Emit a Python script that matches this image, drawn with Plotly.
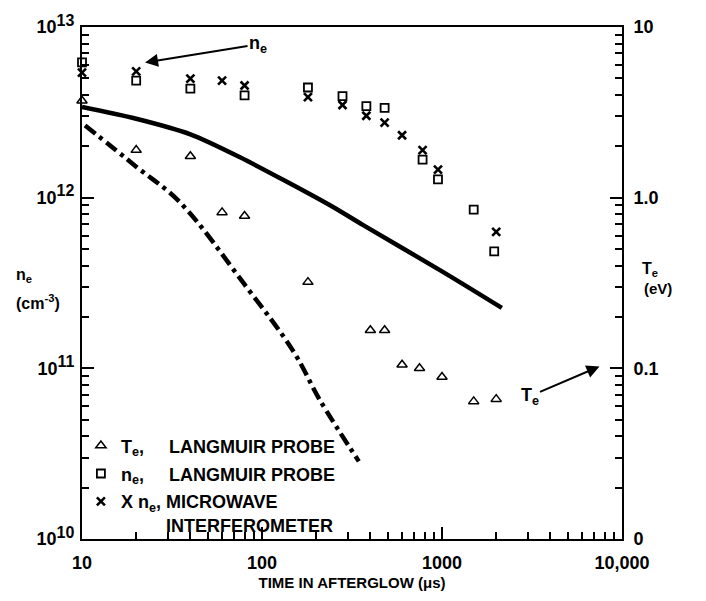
import math
import plotly.graph_objects as go

# ---------------- data ----------------
t_Te = [10, 20, 40, 60, 80, 180, 400, 480, 600, 750, 1000, 1500, 2000]
Te_eV = [3.7, 1.9, 1.75, 0.82, 0.78, 0.32, 0.167, 0.167, 0.105, 0.1, 0.089, 0.064, 0.066]

t_ne_lp = [10, 20, 40, 80, 180, 280, 380, 480, 780, 950, 1500, 1950]
ne_lp = [6.2e12, 4.85e12, 4.36e12, 3.98e12, 4.42e12, 3.93e12, 3.44e12, 3.36e12,
         1.67e12, 1.28e12, 8.5e11, 4.85e11]

t_ne_mw = [10, 20, 40, 60, 80, 180, 280, 380, 480, 600, 780, 950, 2000]
ne_mw = [5.4e12, 5.5e12, 4.98e12, 4.85e12, 4.54e12, 3.88e12, 3.49e12, 3.02e12,
         2.75e12, 2.32e12, 1.9e12, 1.46e12, 6.3e11]

t_solid = [10, 20, 40, 75, 240, 365, 1000, 2150]
ne_solid = [3.4e12, 2.9e12, 2.35e12, 1.73e12, 9.0e11, 6.9e11, 3.7e11, 2.26e11]

t_dashdot = [10.4, 20, 35, 80, 150, 210, 345]
ne_dashdot = [2.65e12, 1.52e12, 9.4e11, 3.1e11, 1.25e11, 6.5e10, 2.85e10]

x_tickvals = [10, 100, 1000, 10000]
x_ticktext = ["10", "100", "1000", "10,000"]
yl_tickvals = [1e10, 1e11, 1e12, 1e13]
yl_exponents = ["10", "11", "12", "13"]
yr_tickvals = [0.01, 0.1, 1, 10]
yr_ticktext = ["0", "0.1", "1.0", "10"]
minor_digits = [2, 3, 4, 5, 6, 7, 8, 9]

FONT = "Liberation Sans"
BLACK = "#000000"

x_minor = [d * 10 ** k for k in (1, 2, 3) for d in minor_digits]
yl_minor = [d * 10 ** k for k in (10, 11, 12) for d in minor_digits]
yr_minor = [d * 10.0 ** k for k in (-2, -1, 0) for d in minor_digits]
yl_ticktext = ["10<sup><span style='font-size:16px'>%s</span></sup>" % e for e in yl_exponents]

fig = go.Figure()

fig.add_trace(go.Scatter(x=t_solid, y=ne_solid, mode="lines",
                         line=dict(color=BLACK, width=4.5, shape="spline", smoothing=0.8),
                         showlegend=False, xaxis="x2", yaxis="y3"))
fig.add_trace(go.Scatter(x=t_dashdot, y=ne_dashdot, mode="lines",
                         line=dict(color=BLACK, width=4.5, dash="13px,5px,4px,5px", shape="spline"),
                         showlegend=False, yaxis="y"))

fig.add_trace(go.Scatter(x=t_Te, y=Te_eV, mode="markers", yaxis="y2", legendgroup="a", cliponaxis=False,
                         name="T<sub>e</sub>,&nbsp;&nbsp;&nbsp;&nbsp;&nbsp;LANGMUIR PROBE",
                         marker=dict(symbol="triangle-up-open", size=9, color=BLACK, line=dict(width=1.5))))
fig.add_trace(go.Scatter(x=t_ne_lp, y=ne_lp, mode="markers", yaxis="y", legendgroup="b", cliponaxis=False,
                         name="n<sub>e</sub>,&nbsp;&nbsp;&nbsp;&nbsp;&nbsp;LANGMUIR PROBE",
                         marker=dict(symbol="square-open", size=8, color=BLACK, line=dict(width=1.8))))
fig.add_trace(go.Scatter(x=t_ne_mw, y=ne_mw, mode="markers", yaxis="y", legendgroup="c", cliponaxis=False,
                         name="X n<sub>e</sub>,&nbsp;MICROWAVE<br>" + "&nbsp;" * 9 + "INTERFEROMETER",
                         marker=dict(symbol="x-thin-open", size=8, color=BLACK, line=dict(width=2.6))))

# empty trace that hosts the right-hand minor-tick axis
fig.add_trace(go.Scatter(x=[], y=[], xaxis="x2", yaxis="y4", showlegend=False, hoverinfo="skip"))

axis_common = dict(type="log", showgrid=False, zeroline=False, showline=True, linecolor=BLACK,
                   linewidth=2, ticks="inside", ticklen=12, tickwidth=2, tickcolor=BLACK,
                   tickfont=dict(family=FONT, size=18, color=BLACK, weight="bold"))
minor_axis = dict(type="log", showgrid=False, zeroline=False, showline=False, ticks="inside",
                  ticklen=7, tickwidth=2, tickcolor=BLACK, showticklabels=False,
                  tickmode="array", autorange=False)

fig.update_layout(
    width=706, height=601,
    margin=dict(l=82, r=84, t=17, b=59),
    paper_bgcolor="white", plot_bgcolor="white",
    font=dict(family=FONT, color=BLACK),
    xaxis=dict(**axis_common, range=[1, 4], tickvals=x_tickvals, ticktext=x_ticktext, mirror=True,
               ticklabelstandoff=6,
               title=dict(text="TIME IN AFTERGLOW (\u03bcs)",
                          font=dict(family=FONT, size=15, color=BLACK, weight="bold"), standoff=6)),
    yaxis=dict(**axis_common, range=[10, 13], tickvals=yl_tickvals, ticktext=yl_ticktext,
               ticklabelstandoff=2),
    yaxis2=dict(**axis_common, range=[-2, 1], tickvals=yr_tickvals, ticktext=yr_ticktext,
                overlaying="y", side="right", ticklabelstandoff=6),
    xaxis2=dict(**minor_axis, range=[1, 4], tickvals=x_minor, overlaying="x", anchor="y", side="bottom"),
    yaxis3=dict(**minor_axis, range=[10, 13], tickvals=yl_minor, overlaying="y", anchor="x2", side="left"),
    yaxis4=dict(**minor_axis, range=[-2, 1], tickvals=yr_minor, overlaying="y", anchor="x2", side="right"),
    legend=dict(x=-0.002, y=0.218, xanchor="left", yanchor="top", bgcolor="rgba(0,0,0,0)",
                font=dict(family=FONT, size=18, color=BLACK, weight="bold"), itemwidth=30,
                tracegroupgap=1.5, valign="top"),
)

def lg(v):
    return math.log10(v)

annotations = [
    # n_e arrow
    dict(x=lg(22.4), y=lg(6.2e12), xref="x", yref="y", text="n<sub>e</sub>", showarrow=True,
         ax=113, ay=-18, arrowhead=2, arrowsize=1.3, arrowwidth=2, arrowcolor=BLACK,
         font=dict(family=FONT, size=18, color=BLACK, weight="bold")),
    # T_e arrow
    dict(x=lg(7500), y=lg(0.1026), xref="x", yref="y2", text="T<sub>e</sub>", showarrow=True,
         ax=-70, ay=30, arrowhead=2, arrowsize=1.3, arrowwidth=2, arrowcolor=BLACK,
         font=dict(family=FONT, size=18, color=BLACK, weight="bold")),
    # left axis title
    dict(x=-0.107, y=0.514, xref="paper", yref="paper", xanchor="center", yanchor="middle",
         text="n<sub>e</sub>", showarrow=False,
         font=dict(family=FONT, size=16, color=BLACK, weight="bold")),
    dict(x=-0.081, y=0.462, xref="paper", yref="paper", xanchor="center", yanchor="middle",
         text="(cm<sup>-3</sup>)", showarrow=False,
         font=dict(family=FONT, size=16, color=BLACK, weight="bold")),
    # right axis title
    dict(x=1.052, y=0.527, xref="paper", yref="paper", xanchor="center", yanchor="middle",
         text="T<sub>e</sub>", showarrow=False,
         font=dict(family=FONT, size=16, color=BLACK, weight="bold")),
    dict(x=1.067, y=0.49, xref="paper", yref="paper", xanchor="center", yanchor="middle",
         text="(eV)", showarrow=False,
         font=dict(family=FONT, size=15, color=BLACK, weight="bold")),
]
fig.update_layout(annotations=annotations)

fig.write_html("out.html")
